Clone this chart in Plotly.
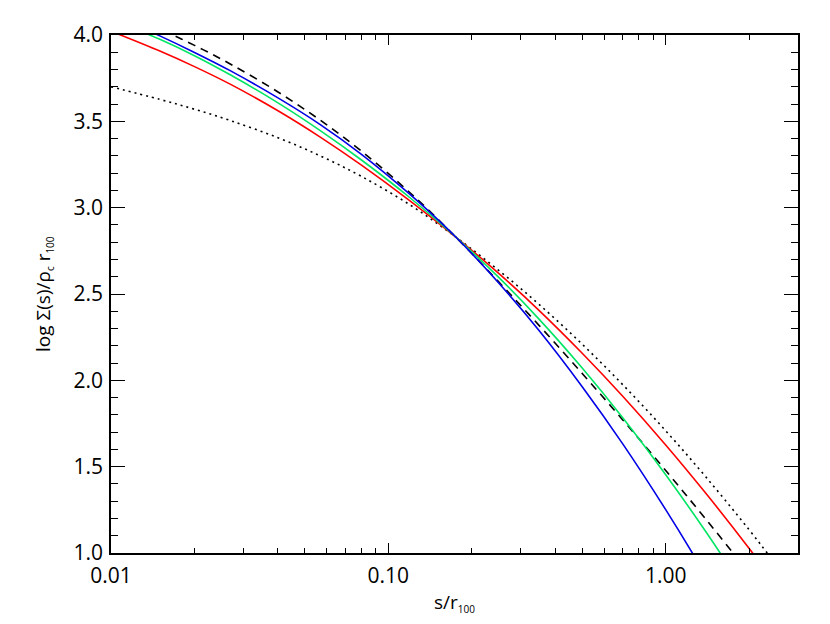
"""Projected surface density profiles, log Sigma(s) vs s/r100."""

import plotly.graph_objects as go

# radius in units of r100
s = [0.01, 0.015, 0.02, 0.027, 0.04, 0.057, 0.08, 0.12, 0.175,
     0.25, 0.35, 0.5, 0.7, 1.0, 1.4, 2.0, 2.5, 3.0]

# log Sigma(s)/(rho_c r100) for each profile
sig_dotted = [3.70, 3.627, 3.570, 3.504, 3.405, 3.299, 3.181, 3.015, 2.83,
              2.637, 2.439, 2.209, 1.975, 1.708, 1.438, 1.134, 0.933, 0.765]
sig_dashed = [4.150, 4.034, 3.940, 3.831, 3.670, 3.505, 3.327, 3.085, 2.83,
              2.570, 2.317, 2.040, 1.771, 1.478, 1.193, 0.883, 0.684, 0.52]
sig_red = [4.022, 3.907, 3.817, 3.714, 3.561, 3.407, 3.246, 3.038, 2.83,
           2.619, 2.404, 2.157, 1.908, 1.626, 1.343, 1.026, 0.817, 0.642]
sig_green = [4.090, 3.975, 3.880, 3.768, 3.607, 3.445, 3.276, 3.056, 2.83,
             2.596, 2.353, 2.071, 1.783, 1.453, 1.120, 0.742, 0.492, 0.282]
sig_blue = [4.120, 3.995, 3.899, 3.792, 3.636, 3.480, 3.309, 3.075, 2.83,
            2.564, 2.287, 1.963, 1.632, 1.251, 0.865, 0.427, 0.138, -0.106]

x_ticks = [0.01, 0.1, 1.0]
x_ticktext = ["0.01", "0.10", "1.00"]
x_minor = [0.02, 0.03, 0.04, 0.05, 0.06, 0.07, 0.08, 0.09,
           0.2, 0.3, 0.4, 0.5, 0.6, 0.7, 0.8, 0.9, 2.0, 3.0]
y_ticks = [1.0, 1.5, 2.0, 2.5, 3.0, 3.5, 4.0]

TICKFONT = dict(family="Open Sans", size=21, color="black", weight=380)
TITLEFONT = dict(family="Open Sans", size=19, color="black", weight=380)

fig = go.Figure()
fig.add_trace(go.Scatter(x=s, y=sig_dotted, mode="lines", line_shape="spline",
                         line=dict(color="black", width=1.6, dash="2px,4px")))
fig.add_trace(go.Scatter(x=s, y=sig_dashed, mode="lines", line_shape="spline",
                         line=dict(color="black", width=1.6, dash="8px,6px")))
fig.add_trace(go.Scatter(x=s, y=sig_red, mode="lines", line_shape="spline",
                         line=dict(color="rgb(255,0,0)", width=1.6)))
fig.add_trace(go.Scatter(x=s, y=sig_green, mode="lines", line_shape="spline",
                         line=dict(color="rgb(0,230,100)", width=1.6)))
fig.add_trace(go.Scatter(x=s, y=sig_blue, mode="lines", line_shape="spline",
                         line=dict(color="rgb(0,0,230)", width=1.6)))

fig.update_xaxes(
    type="log", range=[-2, 0.477],
    tickmode="array", tickvals=x_ticks, ticktext=x_ticktext,
    ticks="inside", ticklen=10, tickwidth=1.3, tickcolor="black",
    minor=dict(tickmode="array", tickvals=x_minor, ticks="inside",
               ticklen=5, tickwidth=1.3, tickcolor="black"),
    showline=True, linecolor="black", linewidth=1.6, mirror="allticks",
    showgrid=False, zeroline=False, ticklabelstandoff=3,
    tickfont=TICKFONT,
)
fig.update_yaxes(
    range=[1.0, 4.0],
    tickmode="array", tickvals=y_ticks,
    ticktext=[f"{v:.1f}" for v in y_ticks],
    ticks="inside", ticklen=14, tickwidth=1.3, tickcolor="black",
    minor=dict(dtick=0.1, ticks="inside", ticklen=7, tickwidth=1.3,
               tickcolor="black"),
    showline=True, linecolor="black", linewidth=1.6, mirror="allticks",
    showgrid=False, zeroline=False, ticklabelstandoff=2,
    tickfont=TICKFONT,
)

fig.add_annotation(
    text="s/r<sub><span style='font-size:10px'>100</span></sub>",
    xref="paper", yref="paper", x=0.5, y=-0.095,
    xanchor="center", yanchor="middle", showarrow=False,
    font=TITLEFONT,
)
fig.add_annotation(
    text="log Σ(s)/ρ<sub><span style='font-size:10px'>c</span></sub> "
         "r<sub><span style='font-size:10px'>100</span></sub>",
    xref="paper", yref="paper", x=-0.099, y=0.5, textangle=-90,
    xanchor="center", yanchor="middle", showarrow=False,
    font=TITLEFONT,
)

# page body adds an 8px margin, so the figure is shrunk by that much
fig.update_layout(
    width=822, height=616,
    margin=dict(l=103, r=32, t=27, b=71),
    paper_bgcolor="white", plot_bgcolor="white",
    showlegend=False,
)

fig.write_html("out.html")
